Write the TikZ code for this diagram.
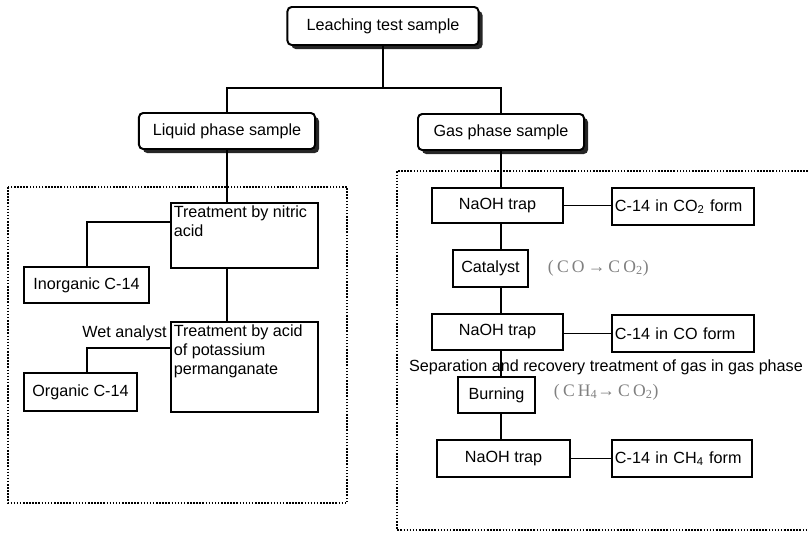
\documentclass[tikz,border=0pt]{standalone}
\usepackage{fontspec}
\setmainfont{Liberation Sans}
\newfontfamily\chemfont[LetterSpace=18]{Liberation Serif}
\usetikzlibrary{shadows}

\begin{document}
\begin{tikzpicture}[x=0.025cm, y=-0.025cm, line width=1.4pt,
	font=\fontsize{11.5}{13.5}\selectfont,
	box/.style={draw, rectangle, inner sep=1pt},
	headbox/.style={box, rounded corners=3pt, fill=white,
		drop shadow={shadow xshift=0.1cm, shadow yshift=-0.1cm, fill=black!85, opacity=1}},
	boxtext/.style={anchor=north west, align=left, inner sep=2pt},
	chem/.style={font=\chemfont\fontsize{12.5}{14}\selectfont, text=black!50, anchor=west, inner sep=0pt},
	area/.style={line width=1.6pt, dash pattern=on 1.1pt off 1.1pt}]
	
	% frame of the picture
	\useasboundingbox (0,0) rectangle (808,540);
	
	% 1. head boxes
	\node[headbox, minimum width=4.775cm, minimum height=0.95cm] (sample) at (383,26) {Leaching test sample};
	\node[headbox, minimum width=4.4cm, minimum height=0.9cm] (liquid) at (227,131) {Liquid phase sample};
	\node[headbox, minimum width=4.15cm, minimum height=0.9cm] (gas) at (501,132) {Gas phase sample};
	
	\coordinate (split) at (383,88);
	\draw (sample.south) -- (split);
	\draw (liquid.north) |- (split) -| (gas.north);
	
	% 2. liquid phase (wet analyst)
	\draw[area] (8,187) rectangle (347,503);
	
	\node[box, minimum width=3.675cm, minimum height=1.625cm] (nitric) at (244.5,235.5) {};
	\node[boxtext] (nitrictxt) at (nitric.north west) {Treatment by nitric\\acid};
	\node[box, minimum width=3.125cm, minimum height=0.9cm] (inorganic) at (86.5,285) {Inorganic C-14};
	
	\node[box, minimum width=3.675cm, minimum height=2.25cm] (perm) at (244.5,367) {};
	\node[boxtext] (permtxt) at (perm.north west) {Treatment by acid\\of potassium\\permanganate};
	\node[box, minimum width=2.825cm, minimum height=0.95cm] (organic) at (80.5,392) {Organic C-14};
	\node[anchor=east, inner sep=1pt] (wet) at (169,333) {Wet analyst};
	
	\coordinate (inorgturn) at (87,222);
	\coordinate (orgturn) at (87,348);
	\draw (liquid.south) -- (liquid.south |- nitric.north);
	\draw (nitric.west |- inorgturn) -- (inorgturn) -- (inorgturn |- inorganic.north);
	\draw (liquid.south |- nitric.south) -- (liquid.south |- perm.north);
	\draw (perm.west |- orgturn) -- (orgturn) -- (orgturn |- organic.north);
	
	% 3. gas phase
	\draw[area] (808,171) -- (397,171) -- (397,530) -- (808,530);
	
	\node[box, minimum width=3.275cm, minimum height=0.875cm] (trapa) at (497.5,205.5) {NaOH trap};
	\node[box, minimum width=3.55cm, minimum height=0.925cm, text width=3.4cm, align=left] (co2form) at (683,206.5) {C-14 in CO\textsubscript{2} form};
	\node[box, minimum width=1.875cm, minimum height=0.925cm] (catalyst) at (490.5,268.5) {Catalyst};
	\node[chem] (coreact) at (547,268) {(CO→CO\textsubscript{2})};
	
	\node[box, minimum width=3.275cm, minimum height=0.9cm] (trapb) at (497.5,332) {NaOH trap};
	\node[box, minimum width=3.55cm, minimum height=0.925cm, text width=3.4cm, align=left] (coform) at (683,333.5) {C-14 in CO form};
	\node (separation) at (606,367) {Separation and recovery treatment of gas in gas phase};
	
	\node[box, minimum width=1.925cm, minimum height=0.9cm] (burning) at (496.5,395) {Burning};
	\node[chem] (ch4react) at (553,392) {(CH\textsubscript{4}→CO\textsubscript{2})};
	
	\node[box, minimum width=3.325cm, minimum height=0.925cm] (trapc) at (503.5,458.5) {NaOH trap};
	\node[box, minimum width=3.5cm, minimum height=0.925cm, text width=3.35cm, align=left] (ch4form) at (682,458.5) {C-14 in CH\textsubscript{4} form};
	
	\draw (gas.south) -- (gas.south |- trapa.north);
	\draw (gas.south |- trapa.south) -- (gas.south |- catalyst.north);
	\draw (gas.south |- catalyst.south) -- (gas.south |- trapb.north);
	\draw (gas.south |- trapb.south) -- (gas.south |- burning.north);
	\draw (gas.south |- burning.south) -- (gas.south |- trapc.north);
	\draw (trapa.east) -- (trapa.east -| co2form.west);
	\draw (trapb.east |- coform.west) -- (coform.west);
	\draw (trapc.east) -- (trapc.east -| ch4form.west);
	
\end{tikzpicture}
\end{document}
